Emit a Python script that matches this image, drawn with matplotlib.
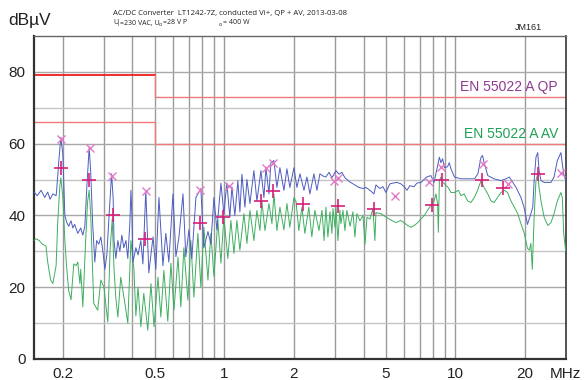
import matplotlib
matplotlib.use("Agg")
import matplotlib.pyplot as plt
from matplotlib.ticker import FixedLocator, NullFormatter, NullLocator

plt.rcParams["font.family"] = ["Liberation Sans", "DejaVu Sans"]

# ── data ────────────────────────────────────────────────────────────────
qp_freq = [0.150, 0.155, 0.161, 0.167, 0.172, 0.176, 0.181, 0.187, 0.188, 0.192,
           0.196, 0.200, 0.202, 0.204, 0.208, 0.212, 0.217, 0.221, 0.225, 0.232,
           0.239, 0.244, 0.249, 0.254, 0.260, 0.264, 0.269, 0.275, 0.280, 0.286,
           0.292, 0.298, 0.304, 0.310, 0.317, 0.325, 0.330, 0.333, 0.339, 0.346,
           0.353, 0.360, 0.367, 0.375, 0.382, 0.390, 0.394, 0.398, 0.402, 0.414,
           0.423, 0.435, 0.444, 0.457, 0.471, 0.491, 0.505, 0.521, 0.542, 0.558,
           0.575, 0.599, 0.617, 0.636, 0.662, 0.681, 0.702, 0.723, 0.753, 0.791,
           0.815, 0.849, 0.874, 0.901, 0.928, 0.966, 0.995, 1.025, 1.056, 1.078,
           1.11, 1.144, 1.167, 1.191, 1.227, 1.252, 1.29, 1.342, 1.383, 1.439,
           1.483, 1.513, 1.559, 1.590, 1.638, 1.688, 1.739, 1.81, 1.865, 1.92,
           2.0, 2.06, 2.124, 2.21, 2.276, 2.345, 2.44, 2.515, 2.59, 2.67,
           2.75, 2.835, 2.92, 3.04, 3.13, 3.226, 3.324, 3.46, 3.6, 3.709,
           3.82, 3.98, 4.098, 4.265, 4.44, 4.527, 4.71, 4.855, 5.0, 5.2,
           5.36, 5.58, 5.81, 6.04, 6.17, 6.35, 6.61, 6.81, 7.09, 7.5,
           7.83, 8.08, 8.4, 8.52, 8.65, 8.8, 8.95, 9.25, 9.4, 9.56,
           9.9, 10.56, 11.3, 12.1, 12.5, 12.9, 13.1, 13.3, 13.8, 14.7,
           15.74, 16.54, 17.1, 17.7, 18.3, 19.2, 19.8, 20.5, 21.2, 21.6,
           21.9, 22.3, 22.7, 23.0, 23.45, 24.2, 25.9, 26.7, 27.6, 28.6,
           29.0, 29.4, 30.0]
qp_level = [46.5, 45.5, 47, 45, 46.5, 44.5, 46, 45.5, 47, 55,
            61.8, 57, 48, 40, 38, 37, 38.5, 36.5, 37.5, 35,
            36.5, 34.5, 37, 48, 59, 52, 38, 27, 33, 32,
            34, 30, 25, 29, 40, 51.6, 45, 33, 28, 33,
            30, 34.5, 31, 33, 28, 38, 47, 40, 27, 31,
            29, 33, 26.5, 47, 24, 34, 25, 45, 26, 35,
            27, 46, 28.5, 34, 46, 28.5, 36, 28, 45, 47.5,
            31, 35.5, 32, 45, 36, 49, 40.5, 49, 39.5, 48,
            40, 49.7, 41, 51.5, 42.3, 50, 43.3, 52.5, 44, 52.5,
            45, 53.3, 46, 54.7, 55.3, 47.8, 53.3, 47, 53, 47.8,
            53.3, 47.8, 51.6, 47, 50.7, 46, 51.6, 47, 51.6, 51,
            50.7, 52, 50.5, 52.5, 51.5, 52, 50.5, 49.5, 48.8, 48.3,
            47.8, 47.5, 47.8, 47, 46, 48.5, 47.5, 48, 46.4, 48.8,
            49, 49.2, 48.8, 47.8, 47, 48.3, 48, 49, 49.2, 50.7,
            51.1, 49.2, 54.3, 56.2, 54.7, 55.8, 53.3, 53.6, 54.7, 53,
            50.7, 50.2, 50.2, 50.2, 51.6, 56.2, 56.7, 54.7, 51.1, 50.2,
            49.7, 50.2, 50.7, 49.2, 47.8, 45, 42.3, 37.5, 40.5, 42.3,
            49.7, 56.2, 57.5, 52.5, 49.7, 49.2, 49.2, 50.7, 55.3, 57.5,
            54.3, 51.6, 49.7]

av_freq = [0.150, 0.153, 0.158, 0.163, 0.169, 0.172, 0.177, 0.181, 0.187, 0.190,
           0.194, 0.196, 0.200, 0.204, 0.208, 0.212, 0.217, 0.223, 0.228, 0.232,
           0.237, 0.239, 0.244, 0.251, 0.256, 0.260, 0.264, 0.272, 0.283, 0.292,
           0.301, 0.313, 0.320, 0.327, 0.333, 0.339, 0.346, 0.356, 0.371, 0.382,
           0.394, 0.406, 0.414, 0.423, 0.435, 0.448, 0.466, 0.481, 0.496, 0.516,
           0.531, 0.547, 0.569, 0.587, 0.605, 0.630, 0.648, 0.668, 0.695, 0.716,
           0.738, 0.768, 0.791, 0.815, 0.849, 0.874, 0.901, 0.937, 0.966, 0.995,
           1.035, 1.067, 1.1, 1.133, 1.167, 1.215, 1.252, 1.29, 1.342, 1.383,
           1.425, 1.453, 1.498, 1.559, 1.606, 1.638, 1.688, 1.739, 1.81, 1.865,
           1.92, 2.0, 2.04, 2.1, 2.165, 2.23, 2.32, 2.39, 2.465, 2.565,
           2.645, 2.7, 2.75, 2.805, 2.865, 2.92, 2.95, 3.01, 3.04, 3.1,
           3.16, 3.194, 3.26, 3.324, 3.39, 3.5, 3.6, 3.67, 3.745, 3.86,
           3.98, 4.06, 4.14, 4.265, 4.395, 4.48, 4.527, 4.71, 4.758, 5.16,
           5.52, 5.81, 6.21, 6.42, 6.63, 6.87, 7.09, 7.33, 7.57, 7.83,
           8.09, 8.23, 8.37, 8.43, 8.52, 8.65, 8.81, 8.97, 9.29, 9.56,
           9.9, 10.3, 10.56, 10.9, 11.3, 11.67, 12.06, 12.47, 12.9, 13.3,
           13.8, 14.25, 14.7, 15.2, 15.74, 16.3, 16.8, 17.39, 17.98, 18.6,
           19.2, 19.85, 20.5, 20.9, 21.2, 21.5, 21.9, 22.3, 22.7, 23.0,
           23.45, 24.2, 25.1, 25.9, 26.7, 27.6, 28.6, 29.0, 29.4, 30.0]
av_level = [33, 33.5, 33, 32, 31.5, 27, 22, 21, 26, 38,
            48, 50.5, 45, 33, 25, 19, 16.5, 26.5, 26, 27,
            21, 25, 14.5, 33, 44, 47, 40, 15.5, 13.6, 22,
            20, 10.3, 30, 39, 25, 17, 11.7, 22.8, 15.5, 10,
            33, 25, 12, 20, 9, 18.3, 8, 21, 9, 22.8,
            11.7, 24.7, 10.5, 26.7, 13.6, 28.4, 14.5, 31, 16.4, 33,
            17.2, 35, 20, 36.7, 22, 35, 23, 38.6, 26.7, 39.5,
            28, 38.6, 29.4, 38.6, 30.3, 40.5, 32.2, 41.4, 33, 41.4,
            35.8, 44, 35.8, 43.3, 37.7, 46, 35.8, 42.3, 36, 43.3,
            36.7, 45, 44, 35.8, 42.3, 35, 42.3, 34, 41.4, 35.8,
            41.4, 33, 42.3, 34, 41, 35, 41.9, 36.7, 42.3, 33,
            41.5, 37.7, 41.4, 35.8, 41.4, 37, 41, 34, 40.5, 38.5,
            40, 32, 39.5, 39, 41.9, 33, 40.8, 40.5, 40.5, 39,
            38, 38.6, 37.2, 36.7, 37.2, 38, 39, 40, 41.4, 42.8,
            44, 46, 43.3, 35.3, 49.7, 50.7, 49.2, 48.8, 47.8, 46.4,
            46.4, 47, 45.5, 46, 44, 43.6, 45, 47, 49.7, 47.8,
            46, 44, 43.6, 45, 46.4, 47, 46.4, 44, 42.3, 40.5,
            37.7, 35, 30.8, 30.3, 32.2, 25, 39.5, 49.7, 51.6, 47.8,
            44, 39.5, 37.2, 38, 40.5, 44, 46.4, 45, 35, 30]

qp_mark_freq = [0.196, 0.261, 0.326, 0.457, 0.786, 1.049, 1.51, 1.63,
                2.97, 3.09, 5.47, 7.65, 8.65, 13.1, 16.8, 28.6]
qp_mark_level = [61.3, 58.8, 51.1, 46.8, 47.1, 48.1, 53.2, 54.5,
                 49.7, 50.4, 45.5, 49.3, 53.6, 54.2, 48.8, 51.8]
av_mark_freq = [0.197, 0.26, 0.328, 0.453, 0.786, 0.982, 1.44, 1.63,
                2.18, 3.09, 4.43, 7.89, 8.74, 13.0, 16.1, 22.7]
av_mark_level = [53.2, 49.9, 40, 33.5, 38, 39.7, 43.9, 46.7,
                 43.2, 42.5, 41.9, 42.8, 49.9, 49.9, 47.6, 51.6]

limit_freq = [0.15, 0.5, 0.5, 30]
qp_limit = [79, 79, 73, 73]
av_limit = [66, 66, 60, 60]

x_ticks = [0.2, 0.5, 1, 2, 5, 10, 20]
x_tick_labels = ["0.2", "0.5", "1", "2", "5", "10", "20"]
x_grid = [0.2, 0.3, 0.4, 0.5, 0.6, 0.7, 0.8, 0.9, 1, 2, 3, 4, 5, 6, 7, 8, 9, 10, 20]
y_ticks = [0, 20, 40, 60, 80]
y_grid = [10, 20, 30, 40, 50, 60, 70, 80]

# ── figure ───────────────────────────────────────────────────────────────
fig = plt.figure(figsize=(5.84, 3.8), dpi=100)
fig.patch.set_facecolor("white")
ax = fig.add_axes([0.0582, 0.0553, 0.9105, 0.850])
ax.set_xscale("log")
ax.set_xlim(0.15, 30)
ax.set_ylim(0, 90)

for f in x_grid:
    ax.axvline(f, color="#9a9a9a", lw=1.0, zorder=1)
for v in y_grid:
    ax.axhline(v, color="#a8a8a8" if v % 20 == 0 else "#c4c4c4", lw=1.0, zorder=1)

# limit lines
ax.plot(limit_freq[:2], qp_limit[:2], color="#ee1c1c", lw=1.3, zorder=2)
ax.plot(limit_freq[1:], qp_limit[1:], color="#f07a7a", lw=1.0, zorder=2)
ax.plot(limit_freq, av_limit, color="#f07a7a", lw=1.0, zorder=2)

# measured traces
ax.plot(av_freq, av_level, color="#3daf5f", lw=0.7, zorder=3)
ax.plot(qp_freq, qp_level, color="#4c5cc0", lw=0.7, zorder=4)
ax.plot(qp_mark_freq, qp_mark_level, ls="none", marker="x", ms=6, mew=1.0,
        color="#e47ac8", zorder=5)
ax.plot(av_mark_freq, av_mark_level, ls="none", marker="+", ms=10, mew=1.2,
        color="#d6207a", zorder=6)

ax.text(0.9855, 75.8, "EN 55022 A QP", transform=ax.get_yaxis_transform(),
        ha="right", va="center", fontsize=10, color="#8e3a90")
ax.text(0.9855, 62.8, "EN 55022 A AV", transform=ax.get_yaxis_transform(),
        ha="right", va="center", fontsize=10, color="#1fa055")

# axes styling
ax.xaxis.set_major_locator(FixedLocator(x_ticks))
ax.set_xticklabels(x_tick_labels)
ax.xaxis.set_minor_locator(NullLocator())
ax.xaxis.set_minor_formatter(NullFormatter())
ax.set_yticks(y_ticks)
ax.tick_params(length=0, labelsize=11, colors="#222222", pad=6)
for side in ("left", "bottom"):
    ax.spines[side].set_color("#333333")
    ax.spines[side].set_linewidth(1.6)
ax.spines["right"].set_color("#444444")
ax.spines["right"].set_linewidth(1.3)
ax.spines["top"].set_color("#666666")
ax.spines["top"].set_linewidth(1.0)

ax.text(1.0, -0.045, "MHz", transform=ax.transAxes, ha="center", va="center",
        fontsize=11, color="#222222")

# ── header texts ─────────────────────────────────────────────────────────
font = ["Open Sans", "DejaVu Sans"]
hdr = dict(va="center", fontsize=5.6, family=font, color="#222222")
hdr2 = dict(va="center", fontsize=5.0, family=font, color="#222222")
sub = dict(va="center", fontsize=4.0, family=font, color="#222222")


def px(x, y):
    return x / 584, 1 - y / 380


fig.text(*px(30, 21), "dBµV", ha="center", va="center", fontsize=12.5, color="#222222")
fig.text(*px(113, 14), "AC/DC Converter  LT1242-7Z, conducted Vi+, QP + AV, 2013-03-08",
         ha="left", **hdr)
fig.text(*px(113, 23), "U", ha="left", **hdr2)
fig.text(*px(117.5, 25), "i", ha="left", **sub)
fig.text(*px(120, 23), "=230 VAC, U", ha="left", **hdr2)
fig.text(*px(159, 25), "o", ha="left", **sub)
fig.text(*px(163, 23), "=28 V P", ha="left", **hdr2)
fig.text(*px(219, 25), "o", ha="left", **sub)
fig.text(*px(223, 23), "= 400 W", ha="left", **hdr2)
fig.text(*px(528, 27), "JM161", ha="center", va="center", fontsize=6.5, color="#222222")

fig.savefig("out.png", dpi=100, facecolor="white")
